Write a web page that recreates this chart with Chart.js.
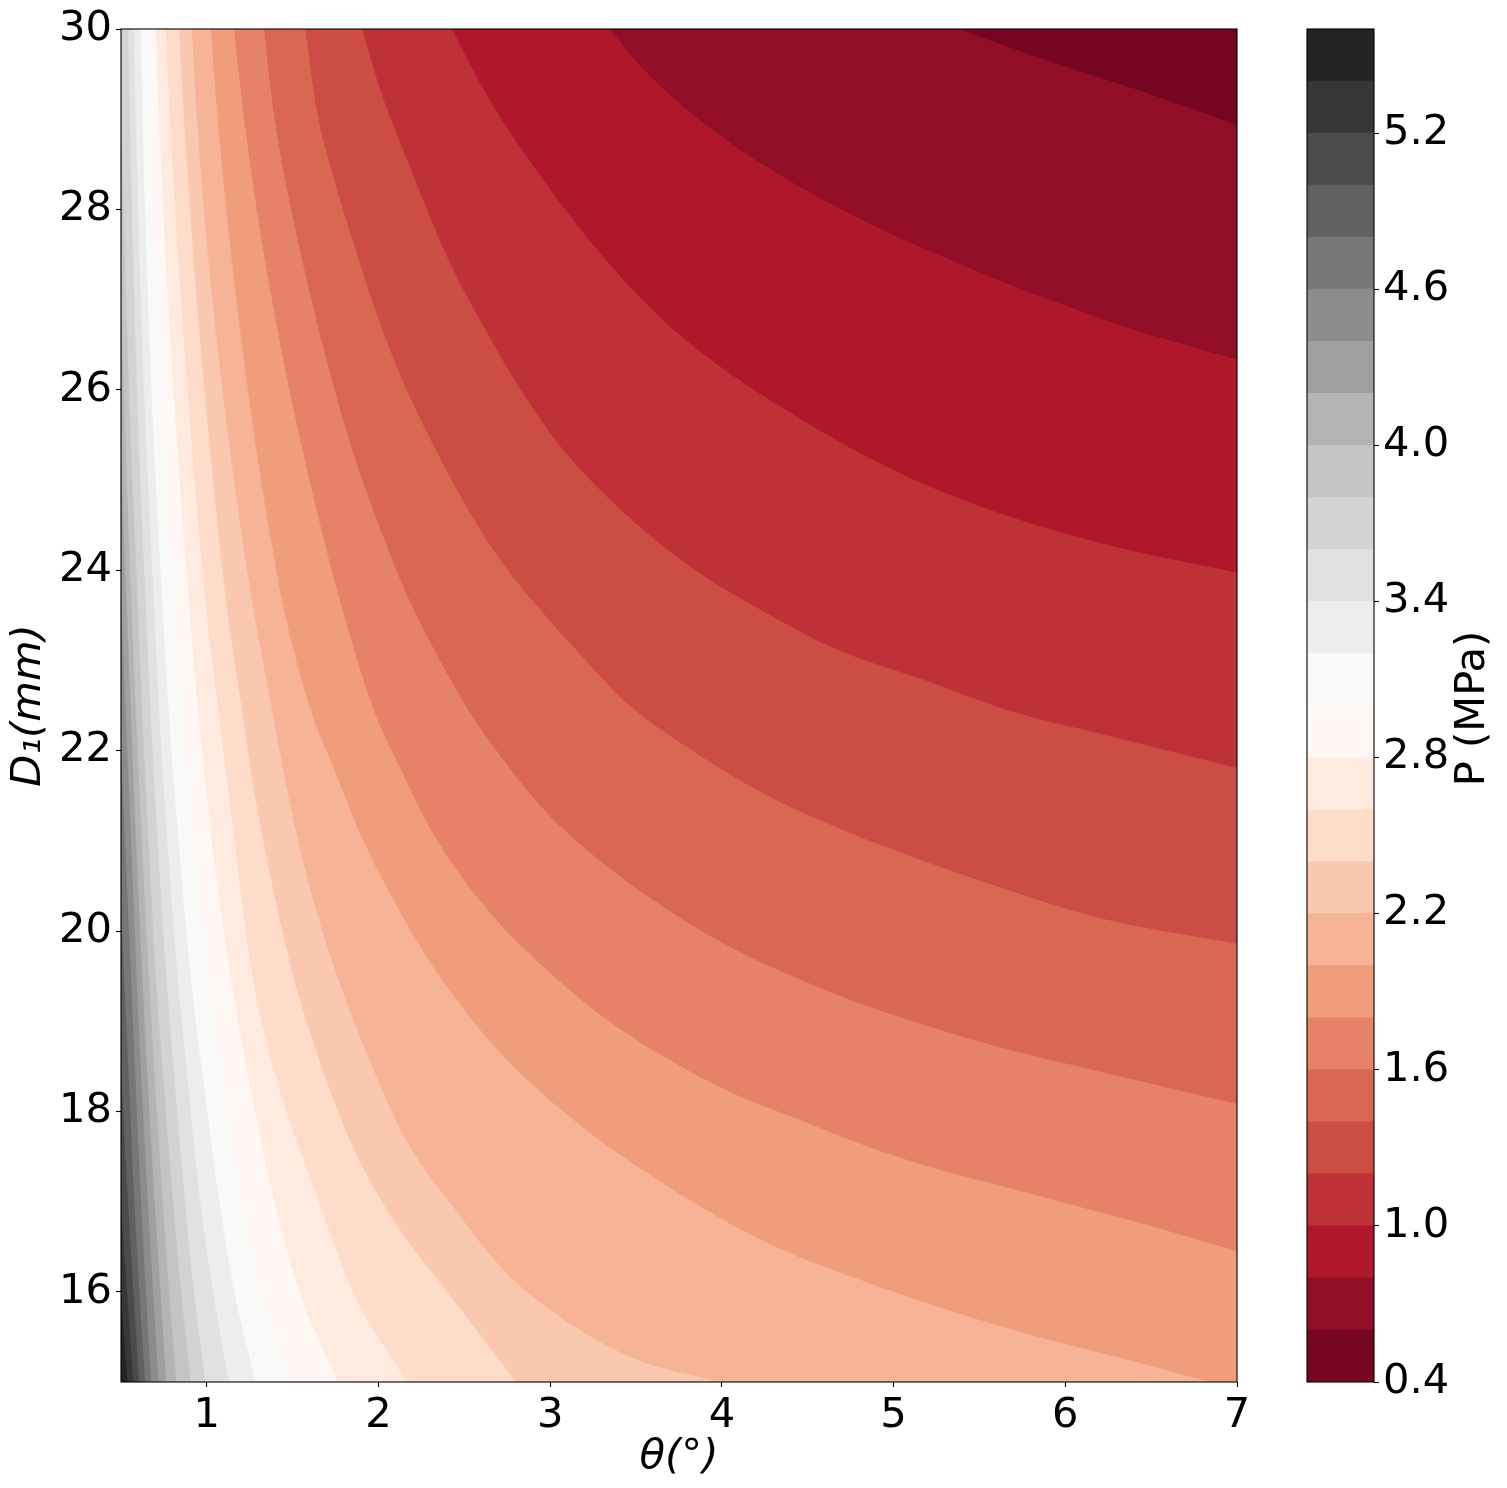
<!DOCTYPE html>
<html>
<head>
<meta charset="utf-8">
<title>P contour</title>
<script src="https://cdn.jsdelivr.net/npm/chart.js@4.4.1/dist/chart.umd.min.js"></script>
<style>
  html, body { margin: 0; padding: 0; background: #fff; }
  #wrap { position: relative; width: 1507px; height: 1488px; }
  #main { position: absolute; left: 0; top: 0; }
  #cbar { position: absolute; left: 1290px; top: 0; }
</style>
</head>
<body>
<div id="wrap">
  <canvas id="main" width="1290" height="1488"></canvas>
  <canvas id="cbar" width="217" height="1488"></canvas>
</div>
<script>
// contour levels of P (MPa), axis ranges and tick values
const levels = [0.4, 0.6, 0.8, 1.0, 1.2, 1.4, 1.6, 1.8, 2.0, 2.2, 2.4, 2.6, 2.8, 3.0,
                3.2, 3.4, 3.6, 3.8, 4.0, 4.2, 4.4, 4.6, 4.8, 5.0, 5.2, 5.4, 5.6];
const thetaRange = [0.5, 7];
const d1Range = [15, 30];
const thetaTicks = [1, 2, 3, 4, 5, 6, 7];
const d1Ticks = [16, 18, 20, 22, 24, 26, 28, 30];
const pTicks = [0.4, 1.0, 1.6, 2.2, 2.8, 3.4, 4.0, 4.6, 5.2];

// RdGy colours of the bands, lowest band (0.4-0.6) first
const bandColors = ['#750521', '#920e26', '#af172a', '#be3137', '#cc4d44', '#d96853',
  '#e58267', '#f09d7c', '#f6b395', '#fac8af', '#fddcc9', '#feeadf', '#fff8f4',
  '#f9f9f9', '#ededed', '#e1e1e1', '#d3d3d3', '#c4c4c4', '#b4b4b4', '#a0a0a0',
  '#8c8c8c', '#777777', '#616161', '#4b4b4b', '#373737', '#242424'];

// contour lines, [theta, D1] pairs
const p06 = [[5.38,30],[5.799,29.715],[6.186,29.471],[6.573,29.228],[7.0,28.936]];
const p08 = [[3.344,30],[3.55,29.54],[3.8,29.1],[4.1,28.67],[4.446,28.26],[4.832,27.87],
  [5.219,27.53],[5.606,27.22],[5.993,26.94],[6.379,26.68],[7.0,26.335]];
const p10 = [[2.427,30],[2.628,29.277],[2.86,28.596],[3.286,27.525],[3.672,26.746],[4.059,26.163],
  [4.446,25.69],[4.832,25.27],[5.219,24.92],[5.606,24.64],[5.993,24.41],[6.379,24.22],[7.0,23.973]];
const p12 = [[1.905,30],[2.01,29.325],[2.126,28.741],[2.28,28.011],[2.435,27.33],[2.628,26.649],
  [2.822,26.017],[3.054,25.384],[3.286,24.897],[3.595,24.362],[3.866,23.973],[4.252,23.535],
  [4.639,23.146],[5.219,22.756],[5.703,22.425],[6.186,22.195],[7.0,21.806]];
const p14 = [[1.573,30],[1.642,29.082],[1.739,28.352],[1.855,27.622],[1.971,26.941],[2.126,26.163],
  [2.319,25.384],[2.512,24.703],[2.706,24.119],[2.976,23.486],[3.208,23.0],[3.44,22.536],
  [3.866,21.952],[4.252,21.514],[4.639,21.173],[5.026,20.881],[5.606,20.492],[6.186,20.151],[7.0,19.859]];
const p16 = [[1.333,30],[1.372,29.325],[1.43,28.596],[1.507,27.866],[1.604,27.039],[1.72,26.163],
  [1.855,25.287],[2.01,24.46],[2.164,23.73],[2.358,23.0],[2.532,22.425],[2.706,21.952],[2.976,21.319],
  [3.286,20.784],[3.672,20.249],[4.059,19.811],[4.446,19.47],[4.832,19.178],[5.219,18.935],
  [5.606,18.716],[6.186,18.448],[7.0,18.083]];
const p18 = [[1.158,30],[1.212,29.082],[1.282,28.109],[1.366,27.136],[1.463,26.163],[1.574,25.19],
  [1.698,24.216],[1.778,23.642],[1.971,22.458],[2.126,21.806],[2.319,21.076],[2.628,20.249],
  [2.899,19.713],[3.286,19.081],[3.672,18.594],[4.059,18.205],[4.446,17.913],[4.832,17.621],
  [5.219,17.378],[5.606,17.183],[5.993,16.988],[6.379,16.794],[7.0,16.453]];
const p20 = [[1.023,30],[1.06,29.082],[1.107,28.109],[1.163,27.136],[1.228,26.163],[1.30,25.19],
  [1.385,24.216],[1.44,23.642],[1.603,22.458],[1.739,21.806],[1.893,21.076],[2.087,20.346],
  [2.28,19.713],[2.667,18.74],[3.131,17.913],[3.672,17.183],[4.252,16.551],[4.832,16.113],
  [5.606,15.626],[6.379,15.237],[6.843,15.0]];
const p22 = [[0.912,30],[0.94,29.08],[1.025,27.136],[1.145,25.19],[1.264,23.642],[1.372,22.536],
  [1.468,21.563],[1.584,20.59],[1.739,19.616],[1.932,18.643],[2.164,17.67],[2.435,16.94],
  [2.744,16.21],[3.131,15.626],[3.518,15.237],[3.982,15.0]];
const p24 = [[0.838,30],[0.864,29.08],[0.935,27.136],[1.026,25.19],[1.113,23.642],[1.198,22.536],
  [1.275,21.563],[1.372,20.59],[1.488,19.616],[1.642,18.643],[1.836,17.67],[2.087,16.794],
  [2.40,16.0],[2.802,15.0]];
const p26 = [[0.762,30],[0.783,29.08],[0.845,27.136],[0.92,25.19],[0.993,23.642],[1.062,22.536],
  [1.16,21.0],[1.256,19.616],[1.40,18.4],[1.631,17.117],[1.85,16.0],[2.164,15.0]];
const p28 = [[0.704,30],[0.72,29.08],[0.77,27.136],[0.835,25.19],[0.896,23.642],[0.945,22.536],
  [1.03,21.0],[1.13,19.6],[1.24,18.4],[1.379,17.117],[1.54,16.0],[1.763,15.0]];
const p30 = [[0.657,30],[0.668,29.08],[0.705,27.136],[0.757,25.19],[0.808,23.642],[0.85,22.5],
  [0.92,21.0],[1.0,19.6],[1.09,18.4],[1.187,17.117],[1.31,16.0],[1.478,15.0]];
const p32 = [[0.616,30],[0.625,29.08],[0.655,27.136],[0.697,25.19],[0.74,23.642],[0.775,22.5],
  [0.835,21.0],[0.9,19.6],[0.975,18.4],[1.064,17.117],[1.16,16.0],[1.284,15.0]];
const p34 = [[0.576,30],[0.585,29.08],[0.613,27.136],[0.652,25.19],[0.692,23.642],[0.72,22.5],
  [0.77,21.0],[0.825,19.6],[0.885,18.4],[0.954,17.117],[1.035,16.0],[1.13,15.0]];
const p36 = [[0.541,30],[0.55,29.08],[0.575,27.136],[0.608,25.19],[0.644,23.642],[0.67,22.5],
  [0.713,21.0],[0.76,19.6],[0.81,18.4],[0.867,17.117],[0.925,16.0],[0.992,15.0]];
const p38 = [[0.47,30.3],[0.5,29.0],[0.53,27.0],[0.562,25.19],[0.597,23.642],[0.622,22.5],
  [0.66,21.0],[0.7,19.6],[0.745,18.4],[0.798,17.117],[0.85,16.0],[0.907,15.0]];
const p40 = [[0.47,28.5],[0.5,27.0],[0.53,25.2],[0.561,23.642],[0.59,22.3],[0.63,20.7],
  [0.68,18.9],[0.739,17.117],[0.78,16.0],[0.823,15.0]];
const p42 = [[0.47,26.8],[0.5,25.3],[0.532,23.642],[0.56,22.3],[0.595,20.7],[0.64,18.9],
  [0.692,17.117],[0.73,16.0],[0.764,15.0]];
const p44 = [[0.47,25.2],[0.5,23.7],[0.53,22.3],[0.565,20.7],[0.605,18.9],[0.653,17.117],
  [0.687,16.0],[0.718,15.0]];
const p46 = [[0.47,23.5],[0.5,22.0],[0.535,20.5],[0.572,18.9],[0.614,17.117],[0.645,16.0],[0.675,15.0]];
const p48 = [[0.47,21.8],[0.5,20.3],[0.535,18.8],[0.575,17.117],[0.607,16.0],[0.64,15.0]];
const p50 = [[0.47,20.0],[0.5,18.5],[0.537,17.117],[0.572,16.0],[0.605,15.0]];
const p52 = [[0.47,18.4],[0.5,17.0],[0.535,16.0],[0.571,15.0]];
const p54 = [[0.47,17.3],[0.5,16.0],[0.539,15.0]];

// contour line for levels[k + 1], lowest level first
const boundaries = [p06, p08, p10, p12, p14, p16, p18, p20, p22, p24, p26, p28, p30,
                    p32, p34, p36, p38, p40, p42, p44, p46, p48, p50, p52, p54];

Chart.defaults.font.family = "'DejaVu Sans', sans-serif";
Chart.defaults.font.size = 41.67;
Chart.defaults.color = '#000';

// a line that runs off the bottom edge is carried on (same direction) below
// the axis and then along it, so the 'end' fill covers everything right of it
function toPoints(curve) {
  const pts = curve.map(p => ({x: p[0], y: p[1]}));
  const n = curve.length;
  const last = curve[n - 1], prev = curve[n - 2];
  if (last[1] <= d1Range[0] && last[0] < thetaRange[1]) {
    const drop = 0.4;
    const t = drop / (prev[1] - last[1]);
    const ext = {x: last[0] + (last[0] - prev[0]) * t, y: last[1] - drop};
    pts.push(ext);
    if (ext.x < thetaRange[1] + 0.5) pts.push({x: thetaRange[1] + 0.5, y: ext.y});
  }
  return pts;
}

const datasets = boundaries.map((curve, k) => ({
  label: 'P < ' + levels[k + 1],
  data: toPoints(curve),
  backgroundColor: bandColors[k],
  borderColor: 'rgba(0,0,0,0)',
  borderWidth: 0,
  pointRadius: 0,
  fill: 'end',
  cubicInterpolationMode: 'monotone'
}));

const frame = {
  id: 'frame',
  afterDraw(chart) {
    const {ctx, chartArea: a} = chart;
    ctx.save();
    ctx.strokeStyle = '#000';
    ctx.lineWidth = 1.1;
    ctx.strokeRect(a.left, a.top, a.right - a.left, a.bottom - a.top);
    ctx.restore();
  }
};

// highest band is the background of the plot
const bandBackground = {
  id: 'bandBackground',
  beforeDatasetsDraw(chart) {
    const {ctx, chartArea: a} = chart;
    ctx.save();
    ctx.fillStyle = bandColors[bandColors.length - 1];
    ctx.fillRect(a.left, a.top, a.right - a.left, a.bottom - a.top);
    ctx.restore();
  }
};

const tickGrid = {display: true, drawOnChartArea: false, drawTicks: true, tickLength: 5,
                  tickWidth: 1.1, tickColor: '#000'};

new Chart(document.getElementById('main'), {
  type: 'line',
  data: {datasets: datasets},
  options: {
    responsive: false,
    animation: false,
    devicePixelRatio: 1,
    layout: {padding: {top: 25, right: 53, left: 0, bottom: 0}},
    elements: {line: {capBezierPoints: false}},
    plugins: {legend: {display: false}, tooltip: {enabled: false}},
    scales: {
      x: {
        type: 'linear', min: thetaRange[0], max: thetaRange[1],
        afterBuildTicks: s => { s.ticks = thetaTicks.map(v => ({value: v})); },
        afterFit: s => { s.height = 106; },
        grid: tickGrid,
        border: {display: false},
        ticks: {padding: 4, autoSkip: false, maxRotation: 0, callback: v => String(v)},
        title: {display: true, text: 'θ(°)', font: {size: 41.67, style: 'italic'},
                padding: {top: 0, bottom: 6}}
      },
      y: {
        type: 'linear', min: d1Range[0], max: d1Range[1],
        afterBuildTicks: s => { s.ticks = d1Ticks.map(v => ({value: v})); },
        afterFit: s => { s.width = 121; },
        grid: tickGrid,
        border: {display: false},
        ticks: {padding: 4, autoSkip: false, callback: v => String(v)},
        title: {display: true, text: 'D₁(mm)', font: {size: 41.67, style: 'italic'},
                padding: {top: 4, bottom: 0}}
      }
    }
  },
  plugins: [bandBackground, frame]
});

// colour bar
const cbarLabel = {
  id: 'cbarLabel',
  afterDraw(chart) {
    const {ctx, chartArea: a} = chart;
    ctx.save();
    ctx.translate(183, (a.top + a.bottom) / 2 + 3);
    ctx.rotate(-Math.PI / 2);
    ctx.font = "41.67px 'DejaVu Sans', sans-serif";
    ctx.fillStyle = '#000';
    ctx.textAlign = 'center';
    ctx.textBaseline = 'middle';
    ctx.fillText('P (MPa)', 0, 0);
    ctx.restore();
  }
};

new Chart(document.getElementById('cbar'), {
  type: 'bar',
  data: {
    labels: ['P'],
    datasets: bandColors.map((c, i) => ({
      data: [[levels[i], levels[i + 1]]],
      backgroundColor: c,
      borderWidth: 0,
      barPercentage: 1,
      categoryPercentage: 1,
      grouped: false
    }))
  },
  options: {
    responsive: false,
    animation: false,
    devicePixelRatio: 1,
    layout: {padding: {top: 25, right: 0, left: 17, bottom: 106}},
    plugins: {legend: {display: false}, tooltip: {enabled: false}},
    scales: {
      x: {display: false},
      y: {
        position: 'right', min: levels[0], max: levels[levels.length - 1],
        afterBuildTicks: s => { s.ticks = pTicks.map(v => ({value: v})); },
        afterFit: s => { s.width = 133; },
        grid: tickGrid,
        border: {display: false},
        ticks: {padding: 4, autoSkip: false, callback: v => v.toFixed(1)}
      }
    }
  },
  plugins: [frame, cbarLabel]
});
</script>
</body>
</html>
